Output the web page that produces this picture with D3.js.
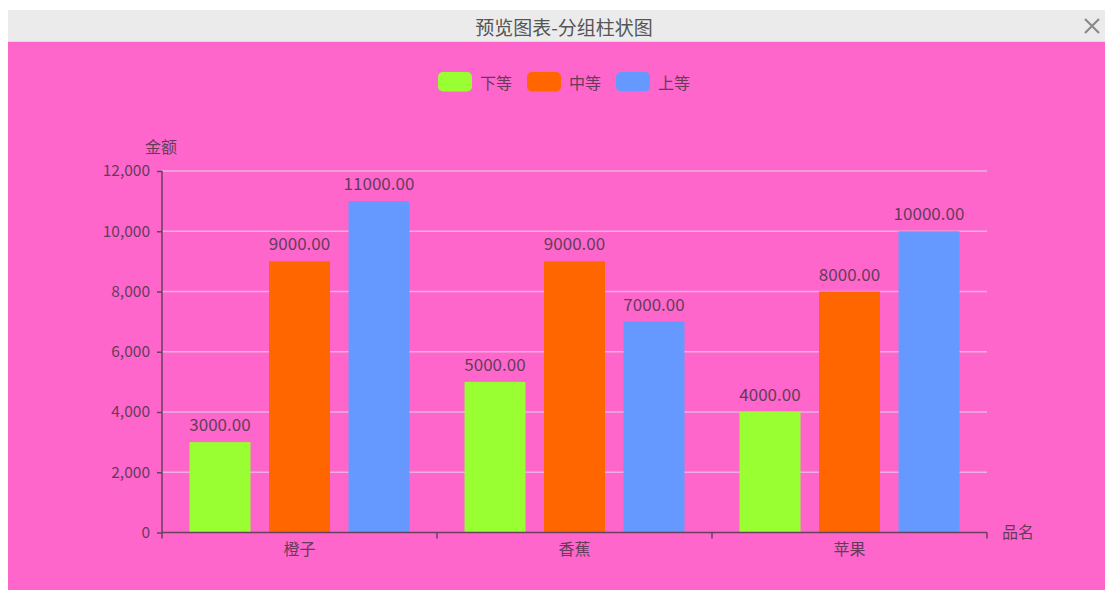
<!DOCTYPE html>
<html>
<head>
<meta charset="utf-8">
<script src="https://cdn.jsdelivr.net/npm/d3@7"></script>
<style>
html,body{margin:0;padding:0;background:#fff;}
svg{display:block;}
</style>
</head>
<body>
<svg id="chart" width="1105" height="590"></svg>
<script>
const titleText = "预览图表-分组柱状图";
const categories = ["橙子", "香蕉", "苹果"];
const seriesNames = ["下等", "中等", "上等"];
const seriesColors = ["#99ff33", "#ff6600", "#6699ff"];
const valuesLow = [3000, 5000, 4000];
const valuesMid = [9000, 9000, 8000];
const valuesHigh = [11000, 7000, 10000];
const yTicks = [0, 2000, 4000, 6000, 8000, 10000, 12000];
const yAxisName = "金额";
const xAxisName = "品名";

(function () {
const seriesValues = [valuesLow, valuesMid, valuesHigh];
const font = "'Noto Sans CJK SC','Noto Sans',sans-serif";
const textColor = "rgb(100,60,90)";
const axisColor = "rgb(105,65,95)";

const svg = d3.select("#chart");

// panel background
svg.append("rect").attr("x", 8).attr("y", 10).attr("width", 1097).attr("height", 32).attr("fill", "#ebebeb");
svg.append("rect").attr("x", 8).attr("y", 41).attr("width", 1097).attr("height", 1).attr("fill", "#d8d8d8");
svg.append("rect").attr("x", 8).attr("y", 42).attr("width", 1097).attr("height", 548).attr("fill", "#ff66cc");

svg.append("text").attr("x", 564).attr("y", 26).attr("text-anchor", "middle")
  .attr("dominant-baseline", "central").attr("font-family", font).attr("font-size", 19)
  .attr("fill", "#555").text(titleText);

// close icon
const cx = 1092, cy = 26, cs = 7;
svg.append("path").attr("d", `M${cx-cs},${cy-cs}L${cx+cs},${cy+cs}M${cx+cs},${cy-cs}L${cx-cs},${cy+cs}`)
  .attr("stroke", "#8a8a8a").attr("stroke-width", 2.2).attr("fill", "none");

// scales
const pLeft = 162, pRight = 987, pTop = 171, pBottom = 532.5;
const x = d3.scaleBand().domain(categories).range([pLeft, pRight]).paddingInner(0).paddingOuter(0);
const xs = d3.scaleBand().domain(seriesNames).range([0, x.bandwidth()]).paddingInner(0.233).paddingOuter(0.346);
const y = d3.scaleLinear().domain([0, 12000]).range([pBottom, pTop]);

// grid
svg.append("g").selectAll("line").data(yTicks.filter(d => d > 0)).join("line")
  .attr("x1", pLeft).attr("x2", pRight).attr("y1", d => y(d)).attr("y2", d => y(d))
  .attr("stroke", "rgb(236,176,222)").attr("stroke-width", 1.3);

// bars
const groups = svg.append("g").selectAll("g").data(categories).join("g")
  .attr("transform", d => `translate(${x(d)},0)`);
groups.each(function(cat, ci) {
  const g = d3.select(this);
  seriesNames.forEach((s, si) => {
    const v = seriesValues[si][ci];
    g.append("rect").attr("x", xs(s)).attr("y", y(v)).attr("width", xs.bandwidth())
      .attr("height", y(0) - y(v)).attr("fill", seriesColors[si]);
    g.append("text").attr("x", xs(s) + xs.bandwidth() / 2).attr("y", y(v) - 11)
      .attr("text-anchor", "middle").attr("font-family", font).attr("font-size", 17)
      .attr("fill", textColor).text(v.toFixed(2));
  });
});

// y axis
const yAxis = d3.axisLeft(y).tickValues(yTicks).tickSize(5).tickPadding(7).tickFormat(d3.format(","));
const gy = svg.append("g").attr("transform", `translate(${pLeft},0)`).call(yAxis);
gy.select(".domain").attr("stroke", axisColor).attr("stroke-width", 1.5).attr("d", `M0,${pBottom}V${pTop}`);
gy.selectAll(".tick line").attr("stroke", axisColor).attr("stroke-width", 1.5);
gy.selectAll(".tick text").attr("font-family", font).attr("font-size", 15.5).attr("fill", textColor);

// x axis
const xAxis = d3.axisBottom(x).tickSize(0).tickPadding(11);
const gx = svg.append("g").attr("transform", `translate(0,${pBottom})`).call(xAxis);
gx.select(".domain").attr("stroke", axisColor).attr("stroke-width", 1.5).attr("d", `M${pLeft},0H${pRight}`);
gx.selectAll(".tick text").attr("font-family", font).attr("font-size", 16).attr("fill", textColor);
const bounds = categories.map(c => x(c)).concat([pRight]);
gx.append("g").selectAll("line").data(bounds).join("line")
  .attr("x1", d => d).attr("x2", d => d).attr("y1", 0).attr("y2", 6)
  .attr("stroke", axisColor).attr("stroke-width", 1.5);

// axis names
svg.append("text").attr("x", 161).attr("y", 146).attr("text-anchor", "middle").attr("dominant-baseline", "central")
  .attr("font-family", font).attr("font-size", 16).attr("fill", textColor).text(yAxisName);
svg.append("text").attr("x", 1002).attr("y", 531).attr("dominant-baseline", "central")
  .attr("font-family", font).attr("font-size", 16).attr("fill", textColor).text(xAxisName);

// legend
const legend = svg.append("g").selectAll("g").data(seriesNames).join("g")
  .attr("transform", (d, i) => `translate(${438 + i * 89},72)`);
legend.append("rect").attr("width", 34).attr("height", 19.5).attr("rx", 5).attr("fill", (d, i) => seriesColors[i]);
legend.append("text").attr("x", 42).attr("y", 10).attr("dominant-baseline", "central")
  .attr("font-family", font).attr("font-size", 16).attr("fill", textColor).text(d => d);
})();
</script>
</body>
</html>
